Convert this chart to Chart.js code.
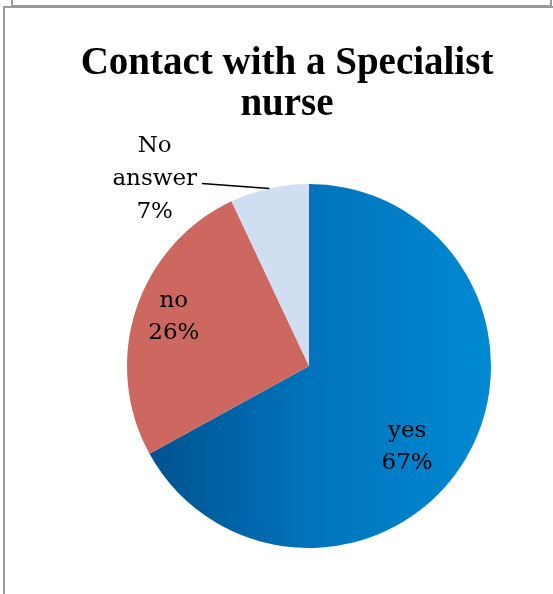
<!DOCTYPE html>
<html>
<head>
<meta charset="utf-8">
<script src="https://cdn.jsdelivr.net/npm/chart.js@4.4.1/dist/chart.umd.min.js"></script>
<style>
  html, body { margin: 0; padding: 0; background: #fff; }
  #wrap { position: relative; width: 553px; height: 594px; overflow: hidden; }
  #pie { position: absolute; left: 0; top: 0; }
  .frame-top { position: absolute; left: 11px; top: -10px; width: 537px; height: 15px;
               border: 2px solid #9a9a9a; border-top: none; }
  .frame { position: absolute; left: 3px; top: 6px; width: 560px; height: 600px;
           border-left: 2px solid #9a9a9a; border-top: 2px solid #9a9a9a; }
  #title { position: absolute; left: 0; width: 574px; top: 40px; text-align: center;
           font: bold 39px "Liberation Serif", serif; line-height: 41px; color: #000; }
</style>
</head>
<body>
<div id="wrap">
  <div class="frame-top"></div>
  <div class="frame"></div>
  <canvas id="pie" width="553" height="594"></canvas>
  <div id="title">Contact with a Specialist<br>nurse</div>
</div>
<script>
// data
const categorias = ["yes", "no", "No answer"];
const valores = [67, 26, 7];
const cores = ["#0074bc", "#cd6861", "#cfdff1"];

// where each label sits: angle shift (deg) from the slice middle, fraction of radius
const posRotulos = [
  { shift: 9, frac: 0.70 },
  { shift: 2, frac: 0.79 },
  { shift: -27, frac: 1.33, leader: true }
];

function gradienteAzul(context) {
  const chart = context.chart;
  const area = chart.chartArea;
  if (!area) return cores[0];
  const g = chart.ctx.createLinearGradient(area.left, 0, area.right, 0);
  g.addColorStop(0, "#004d88");
  g.addColorStop(0.5, "#0074bc");
  g.addColorStop(1, "#0089d2");
  return g;
}

const rotulosPlugin = {
  id: "rotulos",
  afterDatasetsDraw(chart) {
    const ctx = chart.ctx;
    const meta = chart.getDatasetMeta(0);
    const total = valores.reduce((a, b) => a + b, 0);
    ctx.save();
    ctx.font = '23px "DejaVu Serif", serif';
    ctx.fillStyle = "#000";
    ctx.textAlign = "center";
    ctx.textBaseline = "middle";
    meta.data.forEach((arc, i) => {
      const p = arc.getProps(["x", "y", "startAngle", "endAngle", "outerRadius"], true);
      const meio = (p.startAngle + p.endAngle) / 2;
      const conf = posRotulos[i];
      const ang = meio + conf.shift * Math.PI / 180;
      const cx = p.x + Math.cos(ang) * p.outerRadius * conf.frac;
      const cy = p.y + Math.sin(ang) * p.outerRadius * conf.frac;
      const pct = Math.round(valores[i] / total * 100) + "%";
      const linhas = conf.leader ? categorias[i].split(" ").concat(pct) : [categorias[i], pct];
      const lh = conf.leader ? 33 : 32;
      const y0 = cy - (linhas.length - 1) * lh / 2;
      linhas.forEach((t, k) => ctx.fillText(t, cx, y0 + k * lh));
      if (conf.leader) {
        const w = Math.max(...linhas.map(t => ctx.measureText(t).width));
        const ex = p.x + Math.cos(meio) * p.outerRadius;
        const ey = p.y + Math.sin(meio) * p.outerRadius;
        ctx.beginPath();
        ctx.strokeStyle = "#000";
        ctx.lineWidth = 1.5;
        ctx.moveTo(cx + w / 2 + 5, cy + 4);
        ctx.lineTo(ex, ey);
        ctx.stroke();
      }
    });
    ctx.restore();
  }
};

new Chart(document.getElementById("pie"), {
  type: "pie",
  data: {
    labels: categorias,
    datasets: [{
      data: valores,
      backgroundColor: (c) => c.dataIndex === 0 ? gradienteAzul(c) : cores[c.dataIndex],
      borderWidth: 0
    }]
  },
  options: {
    responsive: false,
    animation: false,
    layout: { padding: { left: 127, right: 62, top: 184, bottom: 46 } },
    plugins: {
      legend: { display: false },
      tooltip: { enabled: false }
    }
  },
  plugins: [rotulosPlugin]
});
</script>
</body>
</html>
